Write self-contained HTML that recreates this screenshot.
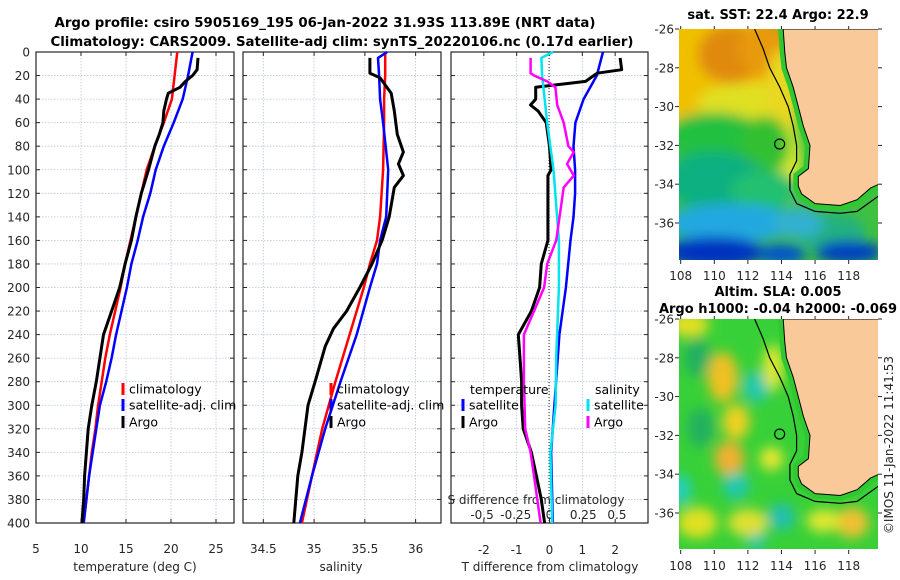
<!DOCTYPE html>
<html><head><meta charset="utf-8"><style>
body{margin:0;background:#fff;}
svg{display:block;font-family:"DejaVu Sans","Liberation Sans",sans-serif;}
.tk{font-size:12px;fill:#262626;}
.tt{font-size:13px;font-weight:bold;fill:#000;}
.lg{font-size:12.5px;fill:#000;}
</style></head><body>
<svg id="s" width="900" height="580" viewBox="0 0 900 580" xmlns="http://www.w3.org/2000/svg">
<defs>
<filter id="bl" x="-50%" y="-50%" width="200%" height="200%"><feGaussianBlur stdDeviation="6"/></filter>
<clipPath id="c1"><rect x="679" y="29" width="199" height="231"/></clipPath>
<clipPath id="c2"><rect x="679" y="319" width="199" height="230"/></clipPath>
</defs>
<text class="tt" x="325" y="27" text-anchor="middle" textLength="541" lengthAdjust="spacingAndGlyphs">Argo profile: csiro 5905169_195 06-Jan-2022 31.93S 113.89E (NRT data)</text>
<text class="tt" x="342" y="46" text-anchor="middle" textLength="583" lengthAdjust="spacingAndGlyphs">Climatology: CARS2009. Satellite-adj clim: synTS_20220106.nc (0.17d earlier)</text>
<g id="plots"></g>
<g id="maps"></g>
<text class="tk" transform="translate(893,445) rotate(-90)" text-anchor="middle" font-size="13">©IMOS 11-Jan-2022 11:41:53</text>
</svg>
<script>
// ---- data ----
const depthGrid = [0,20,40,60,80,100,120,140,160,180,200,220,240,260,280,300,320,340,360,380,400];
const tempClim = [20.7,20.4,20.1,19.2,18.2,17.3,16.7,16.1,15.5,14.9,14.4,13.8,13.2,12.7,12.3,11.9,11.6,11.2,10.9,10.6,10.3];
const tempSat  = [22.4,21.9,21.3,20.3,19.2,18.3,17.7,16.9,16.3,15.6,15.1,14.5,13.9,13.4,12.8,12.1,11.7,11.3,10.9,10.6,10.3];
const argoDepth = [5,15,20,25,30,35,40,50,60,70,80,100,120,140,160,180,200,220,240,260,280,300,320,340,360,380,400];
const tempArgo = [23.0,22.9,22.4,21.6,21.0,19.7,19.5,19.2,19.1,18.7,18.2,17.5,16.7,16.1,15.6,14.9,14.3,13.4,12.5,12.1,11.7,11.2,10.8,10.6,10.4,10.3,10.1];
const salDepth = [0,5,20,40,60,100,140,160,180,200,240,280,320,360,400];
const salClim = [35.70,35.70,35.70,35.69,35.69,35.68,35.65,35.62,35.55,35.49,35.35,35.21,35.08,34.98,34.88];
const salSat  = [35.72,35.63,35.64,35.65,35.68,35.73,35.71,35.65,35.62,35.55,35.42,35.26,35.11,34.98,34.86];
const salArgoDepth = [5,18,22,35,50,70,85,95,105,115,140,160,180,200,220,235,250,280,300,340,360,400];
const salArgo = [35.55,35.55,35.65,35.76,35.79,35.82,35.88,35.83,35.88,35.79,35.74,35.67,35.57,35.45,35.32,35.19,35.11,35.01,34.94,34.88,34.84,34.80];
const dTSatDepth = [0,20,40,60,80,100,120,140,160,200,240,300,340,400];
const dTSat = [1.63,1.44,1.04,0.79,0.73,0.78,0.78,0.73,0.64,0.50,0.30,0.15,0.05,0.10];
const dTArgoDepth = [5,15,18,25,30,35,40,45,50,60,80,100,105,120,140,160,180,200,220,240,260,280,300,320,340,360,380,400];
const dTArgo = [2.15,2.2,1.45,1.1,-0.42,-0.42,-0.42,-0.58,-0.35,-0.1,0,0.05,-0.05,-0.05,-0.05,-0.05,-0.25,-0.3,-0.55,-0.95,-0.9,-0.85,-0.85,-0.8,-0.55,-0.4,-0.25,-0.15];
const dSSatDepth = [0,5,20,60,100,160,200,260,300,340,400];
const dSSat = [0.027,-0.06,-0.055,-0.017,0.03,0.07,0.07,0.05,0.045,0.007,0.02];
const dSArgoDepth = [5,18,20,25,30,45,60,80,85,95,105,115,160,180,200,220,240,280,320,340,360,400];
const dSArgo = [-0.14,-0.14,-0.115,-0.017,0.044,0.057,0.105,0.14,0.18,0.13,0.18,0.105,0.05,-0.017,-0.04,-0.115,-0.19,-0.19,-0.18,-0.14,-0.115,-0.066];
const depthTicks = [0,20,40,60,80,100,120,140,160,180,200,220,240,260,280,300,320,340,360,380,400];
const tempTicks = [5,10,15,20,25];
const salTicks = [34.5,35,35.5,36];
const dTTicks = [-2,-1,0,1,2];
const dSTicks = [-0.5,-0.25,0,0.25,0.5];
const lonTicks = [108,110,112,114,116,118];
const latTicks = [-26,-28,-30,-32,-34,-36];

const NS="http://www.w3.org/2000/svg";
const g=document.getElementById('plots');
function mk(tag,attrs,parent){const e=document.createElementNS(NS,tag);for(const k in attrs)e.setAttribute(k,attrs[k]);(parent||g).appendChild(e);return e;}
const top0=52,bot=523;
const yD=d=>top0+d*(bot-top0)/400;
function lin(d0,d1,p0,p1){return v=>p0+(v-d0)*(p1-p0)/(d1-d0);}
const panels=[
 {x0:36,x1:234,sx:lin(5,27,36,234),ticks:tempTicks,name:'temperature'},
 {x0:243,x1:441,sx:lin(34.3,36.25,243,441),ticks:salTicks,name:'salinity'},
 {x0:451,x1:648,sx:lin(-3,3,451,648),ticks:dTTicks,name:'difference'}
];
const sxS=lin(-0.73,0.73,451,648);
function poly(xs,ys,sx,color,w,name){
 const pts=xs.map((v,i)=>sx(v).toFixed(1)+','+yD(ys[i]).toFixed(1)).join(' ');
 const p=mk('polyline',{points:pts,fill:'none',stroke:color,'stroke-width':w,'stroke-linejoin':'round'});
 
 
}
panels.forEach((P,pi)=>{
 const grp=mk('g',{});
 
 
 depthTicks.forEach(d=>{
  const l=mk('line',{x1:P.x0,x2:P.x1,y1:yD(d),y2:yD(d),stroke:'#b8c4dc','stroke-width':0.8,'stroke-dasharray':'1.5,1.5'},grp);
  
  
  mk('line',{x1:P.x0,x2:P.x0+4,y1:yD(d),y2:yD(d),stroke:'#262626'},grp);
  mk('line',{x1:P.x1-4,x2:P.x1,y1:yD(d),y2:yD(d),stroke:'#262626'},grp);
 });
 P.ticks.forEach(t=>{
  const x=P.sx(t);
  const l=mk('line',{x1:x,x2:x,y1:top0,y2:bot,stroke:'#b8c4dc','stroke-width':0.8,'stroke-dasharray':'1.5,1.5'},grp);
  
  
  mk('line',{x1:x,x2:x,y1:bot,y2:bot-4,stroke:'#262626'},grp);
  mk('line',{x1:x,x2:x,y1:top0,y2:top0+4,stroke:'#262626'},grp);
  const tx=mk('text',{x:x,y:pi==2?554:553,'text-anchor':'middle',class:'tk'},grp);
  tx.textContent=String(t);
  
  
 });
 const r=mk('rect',{x:P.x0,y:top0,width:P.x1-P.x0,height:bot-top0,fill:'none',stroke:'#262626','stroke-width':1.2},grp);
 
 
});
depthTicks.forEach(d=>{
 const t=mk('text',{x:30,y:yD(d)+4.5,'text-anchor':'end',class:'tk'});
 t.textContent=String(d);
 
 
});
const zl=mk('line',{x1:549,x2:549,y1:top0,y2:bot,stroke:'#333','stroke-width':1,'stroke-dasharray':'1,2'});


dSTicks.forEach(t=>{
 const tx=mk('text',{x:sxS(t),y:519,'text-anchor':'middle',class:'tk'});
 tx.textContent=String(t);
 
 
});
function label(x,y,txt,name,anchor){const t=mk('text',{x:x,y:y,'text-anchor':anchor||'middle',class:'tk',
 'font-size':'13'});t.textContent=txt;return t;}
label(135,571,'temperature (deg C)','x-axis-title-temperature');
label(341,571,'salinity','x-axis-title-salinity');
label(550,571,'T difference from climatology','x-axis-title-t-diff');
label(536,504,'S difference from climatology','s-diff-axis-title');

const P0=panels[0],P1=panels[1],P2=panels[2];
poly(tempClim,depthGrid,P0.sx,'#ff0000',2.5,'temp-climatology-line');
poly(tempSat,depthGrid,P0.sx,'#0000ff',2.5,'temp-satellite-line');
poly(tempArgo,argoDepth,P0.sx,'#000000',3,'temp-argo-line');
poly(salClim,salDepth,P1.sx,'#ff0000',2.5,'sal-climatology-line');
poly(salSat,salDepth,P1.sx,'#0000ff',2.5,'sal-satellite-line');
poly(salArgo,salArgoDepth,P1.sx,'#000000',3,'sal-argo-line');
poly(dTSat,dTSatDepth,P2.sx,'#0000ff',2.5,'t-diff-satellite-line');
poly(dTArgo,dTArgoDepth,P2.sx,'#000000',3,'t-diff-argo-line');
poly(dSSat,dSSatDepth,sxS,'#00e5ee',2.5,'s-diff-satellite-line');
poly(dSArgo,dSArgoDepth,sxS,'#ff00ff',2.5,'s-diff-argo-line');

function legend(mx,y,color,txt,name){
 const m=mk('rect',{x:mx-1.5,y:y-6,width:3,height:12,fill:color});
 
 
 const t=mk('text',{x:mx+6,y:y+4.5,class:'lg'});t.textContent=txt;
 
 
}
legend(123,389,'#ff0000','climatology','legend-climatology');
legend(123,405,'#0000ff','satellite-adj. clim','legend-satellite');
legend(123,422,'#000','Argo','legend-argo');
legend(331,389,'#ff0000','climatology','legend-climatology-sal');
legend(331,405,'#0000ff','satellite-adj. clim','legend-satellite-sal');
legend(331,422,'#000','Argo','legend-argo-sal');
const lt=mk('text',{x:470,y:394,class:'lg'});lt.textContent='temperature';


const ls=mk('text',{x:595,y:394,class:'lg'});ls.textContent='salinity';


legend(463,405,'#0000ff','satellite','legend-t-satellite');
legend(463,422,'#000','Argo','legend-t-argo');
legend(588,405,'#00e5ee','satellite','legend-s-satellite');
legend(588,422,'#ff00ff','Argo','legend-s-argo');

// ---- maps ----
const mg=document.getElementById('maps');
function M(tag,attrs,parent){return mk(tag,attrs,parent||mg);}
const mlx=lon=>679+(lon-107.9)*16.8;
const coast=[[114.1,-26],[114.2,-27.2],[114.3,-28],[114.7,-29],[115.0,-30],[115.3,-31],[115.7,-32],[115.6,-33.2],[115.0,-33.6],[115.0,-34.1],[115.2,-34.5],[116,-35],[117.5,-35.1],[118.5,-34.8],[119.3,-34.2],[119.8,-34],[119.8,-26]];
const shelf=[[112.4,-26],[112.9,-27],[113.3,-28],[113.9,-29],[114.4,-30],[114.7,-31],[114.9,-32],[114.9,-32.8],[114.5,-33.5],[114.5,-34.3],[114.9,-35],[116,-35.4],[117.5,-35.5],[118.5,-35.4],[119.8,-34.6]];
function drawMap(top,clipId,blobs,base,titleLines,name){
 const ly=lat=>top+(-26-lat)*19.4;
 const grp=M('g',{});
 
 
 const inner=M('g',{'clip-path':'url(#'+clipId+')'},grp);
 M('rect',{x:679,y:top,width:199,height:231,fill:base},inner);
 const bg=M('g',{filter:'url(#bl)'},inner);
 blobs.forEach(b=>M('ellipse',{cx:mlx(b[0]),cy:ly(b[1]),rx:b[2]*16.8,ry:b[3]*19.4,fill:b[4]},bg));
 const land=coast.map(p=>mlx(p[0]).toFixed(1)+','+ly(p[1]).toFixed(1)).join(' ');
 M('polygon',{points:land,fill:'none',stroke:'#30c830','stroke-width':10},inner);
 const lp=M('polygon',{points:land,fill:'#f9c99a',stroke:'#000','stroke-width':1},inner);
 
 
 const sp=M('polyline',{points:shelf.map(p=>mlx(p[0]).toFixed(1)+','+ly(p[1]).toFixed(1)).join(' '),fill:'none',stroke:'#000','stroke-width':1.2},inner);
 
 
 const c=M('circle',{cx:mlx(113.89),cy:ly(-31.93),r:5,fill:'none',stroke:'#000','stroke-width':1.2},grp);
 
 
 lonTicks.forEach(l=>{
  M('line',{x1:mlx(l),x2:mlx(l),y1:top+231,y2:top+235,stroke:'#262626'},grp);
  M('line',{x1:mlx(l),x2:mlx(l),y1:top,y2:top-3,stroke:'#262626'},grp);
  const t=M('text',{x:mlx(l),y:top+251,'text-anchor':'middle',class:'tk'},grp);t.textContent=String(l);
  
  
 });
 latTicks.forEach(l=>{
  M('line',{x1:878,x2:882,y1:ly(l),y2:ly(l),stroke:'#262626'},grp);
  M('line',{x1:675,x2:679,y1:ly(l),y2:ly(l),stroke:'#262626'},grp);
  const t=M('text',{x:674,y:ly(l)+4.5,'text-anchor':'end',class:'tk'},grp);t.textContent=String(l);
  
  
 });
 titleLines.forEach(tl=>{
  const t=M('text',{x:tl[1],y:tl[2],'text-anchor':'middle',class:'tt'},grp);t.textContent=tl[0];
  
  
 });
}
const sstBlobs=[
 [110,-28.5,4,4,'#f0c000'],[111,-27.3,2,1.5,'#e08a10'],[113,-27,1.5,1.5,'#e89a10'],
 [112,-29.8,3,1,'#e0e020'],[114,-30,1,3,'#e8d820'],[114.5,-33,0.7,2,'#d8e830'],
 [110,-31.5,3,1.2,'#20c040'],[113,-32,1.5,1.5,'#30c030'],
 [110,-33.8,3,1.5,'#10b080'],[113,-34.3,2,1,'#20c070'],
 [111,-36,4,1,'#20a8e0'],[117,-36.5,2,1,'#20b080'],[115,-36,1.5,0.8,'#30b0d0'],
 [110,-37.5,3,0.8,'#0030c0'],[118,-37.5,2,0.6,'#0040c0'],[114,-37.6,1.5,0.5,'#0050d0']
];
const slaBlobs=[
 [110.5,-29,0.9,1.3,'#f0c020'],[111.3,-31.3,0.8,0.9,'#f0d020'],[110.9,-33.2,0.9,0.9,'#f0b030'],
 [108.5,-26.3,1.2,0.6,'#e8e020'],[112.5,-29.5,0.8,0.8,'#20c8b0'],[111.3,-34.6,0.8,0.7,'#20c8b0'],
 [108,-34.8,0.6,0.8,'#20d0c0'],[114,-36.2,0.8,0.7,'#20c0b0'],[112.5,-37.3,0.6,0.6,'#20c8b0'],
 [118.2,-36.5,1,0.8,'#f0c030'],[109,-36.5,1.2,0.8,'#e0e020'],[112,-36.5,1.2,0.7,'#e0e030'],
 [109,-28,0.8,1,'#20b060'],[109.2,-31.6,0.8,1,'#20b060'],[113.4,-33.2,0.7,0.6,'#e8e830'],
 [116.5,-36.4,1,0.6,'#e0e830'],[113.5,-28.5,0.6,1.2,'#e0e830']
];
drawMap(29,'c1',sstBlobs,'#40c040',[['sat. SST: 22.4 Argo: 22.9',778,19]],'sst-map');
drawMap(319,'c2',slaBlobs,'#38d038',[['Altim. SLA: 0.005',778,296],['Argo h1000: -0.04 h2000: -0.069',778,313]],'sla-map');
</script>
</body></html>
